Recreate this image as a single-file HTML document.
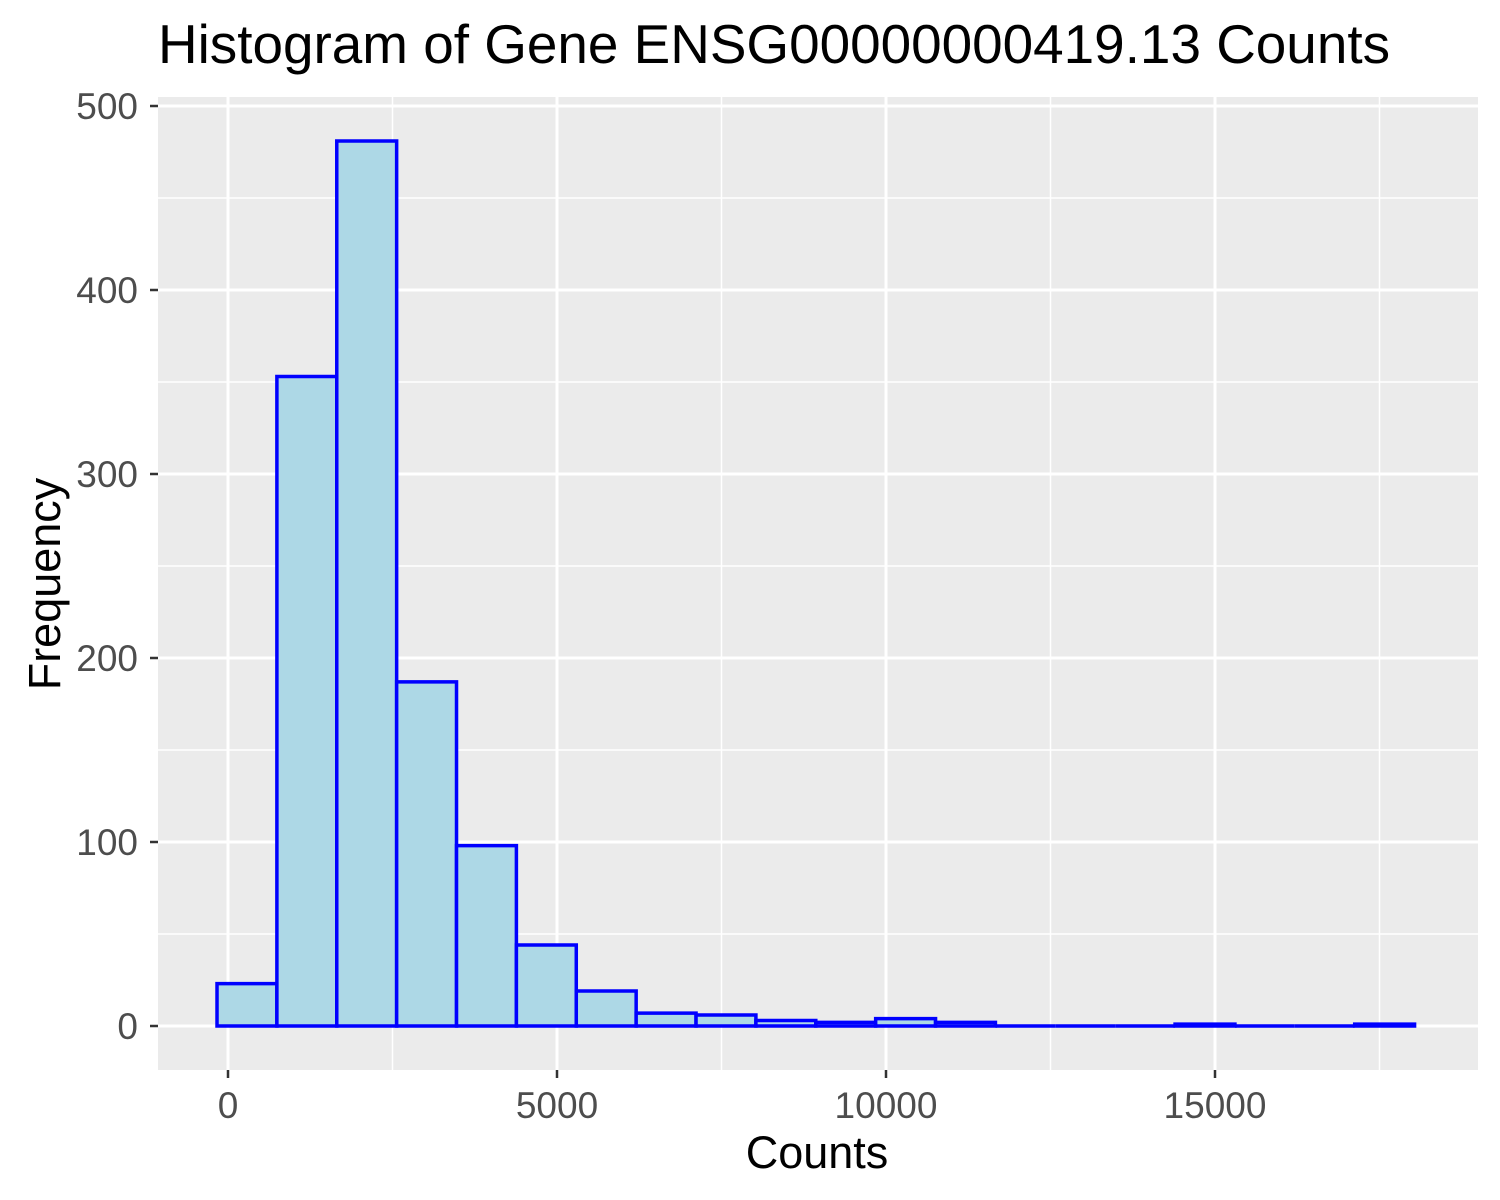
<!DOCTYPE html>
<html><head><meta charset="utf-8"><style>
body{margin:0;background:#fff;}
svg{display:block;font-family:"Liberation Sans",Arial,sans-serif;}
</style></head><body>
<svg id="chart" width="1500" height="1200">
<rect x="0" y="0" width="1500" height="1200" fill="#fff"/>
<rect x="158" y="97" width="1320" height="973" fill="#EBEBEB"/>
<g id="grid"></g>
<g id="bars"></g>
<g id="axes"></g>
<text x="158" y="63" font-size="55" fill="#000" textLength="1232" lengthAdjust="spacingAndGlyphs">Histogram of Gene ENSG00000000419.13 Counts</text>
<text x="817" y="1168" font-size="45" text-anchor="middle" fill="#000">Counts</text>
<text transform="translate(60,584) rotate(-90)" font-size="45" text-anchor="middle" fill="#000">Frequency</text>
</svg>
<script>
const binStart = -167;
const binWidth = 910;
const counts = [23,353,481,187,98,44,19,7,6,3,2,4,2,0,0,0,1,0,0,1];
const xTicks = [0,5000,10000,15000];
const xTickLabels = ["0","5000","10000","15000"];
const yTicks = [0,100,200,300,400,500];
const yTickLabels = ["0","100","200","300","400","500"];
const NS="http://www.w3.org/2000/svg";
const L=158,R=1478,T=97,B=1070;
function sx(v){return 228+(v-0)*(557-228)/5000;}
function sy(v){return 1026-v*(1026-106)/500;}
function mk(tag,attrs,parent){const e=document.createElementNS(NS,tag);for(const k in attrs)e.setAttribute(k,attrs[k]);parent.appendChild(e);return e;}
const grid=document.getElementById('grid'),bars=document.getElementById('bars'),axes=document.getElementById('axes');
for(let i=0;i<xTicks.length;i++){const v=xTicks[i]+2500;const x=sx(v);if(x<R){const l=mk('line',{x1:x,x2:x,y1:T,y2:B,stroke:'#fff','stroke-width':1.5},grid);

}}
for(let i=0;i<yTicks.length;i++){const v=yTicks[i]+50;const y=sy(v);if(y>T){const l=mk('line',{x1:L,x2:R,y1:y,y2:y,stroke:'#fff','stroke-width':1.5},grid);

}}
xTicks.forEach((v,i)=>{const x=sx(v);
const l=mk('line',{x1:x,x2:x,y1:T,y2:B,stroke:'#fff','stroke-width':3},grid);


const t=mk('line',{x1:x,x2:x,y1:B,y2:B+8,stroke:'#333','stroke-width':2.5},axes);


const tx=mk('text',{x:x,y:B+48,'font-size':37,'text-anchor':'middle',fill:'#4D4D4D'},axes);tx.textContent=xTickLabels[i];

});
yTicks.forEach((v,i)=>{const y=sy(v);
const l=mk('line',{x1:L,x2:R,y1:y,y2:y,stroke:'#fff','stroke-width':3},grid);


const t=mk('line',{x1:L-8,x2:L,y1:y,y2:y,stroke:'#333','stroke-width':2.5},axes);


const tx=mk('text',{x:L-20,y:y+13,'font-size':37,'text-anchor':'end',fill:'#4D4D4D'},axes);tx.textContent=yTickLabels[i];

});
counts.forEach((c,i)=>{const x0=sx(binStart+i*binWidth),x1=sx(binStart+(i+1)*binWidth);
const y0=sy(0),y1=sy(c);
const r=mk('path',{d:`M${x0},${y0}L${x0},${y1}L${x1},${y1}L${x1},${y0}Z`,fill:'#ADD8E6',stroke:'#0000FF','stroke-width':3.5},bars);

});
</script>
</body></html>
